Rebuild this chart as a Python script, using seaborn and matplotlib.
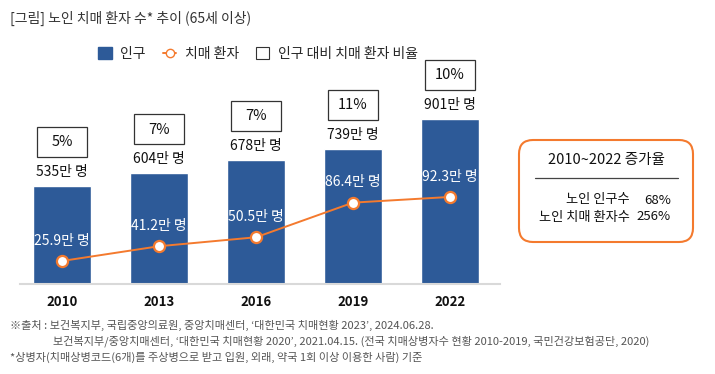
import seaborn as sns
import matplotlib.pyplot as plt
import pandas as pd
from matplotlib.patches import Patch, FancyBboxPatch, Rectangle
from matplotlib.lines import Line2D

years = ["2010", "2013", "2016", "2019", "2022"]
population = [535, 604, 678, 739, 901]
patients = [25.9, 41.2, 50.5, 86.4, 92.3]
ratio_labels = ["5%", "7%", "7%", "11%", "10%"]

growth_rows = ["노인 인구수", "노인 치매 환자수"]
growth_vals = ["68%", "256%"]

W, H = 715, 374
BLUE = "#2D5A98"
ORANGE = "#F47A2E"

sns.set_theme(style="white")
plt.rcParams["font.family"] = ["Noto Sans CJK KR", "DejaVu Sans"]

df = pd.DataFrame({"year": years, "pop": population, "pat": patients})

fig = plt.figure(figsize=(W / 100, H / 100), dpi=100)


def fx(x):
    return x / W


def fy(y):
    return 1 - y / H


# axes from x=20..500 px, y=40..284 px
ax = fig.add_axes([fx(20), fy(284), fx(480), (284 - 40) / H])
sns.barplot(data=df, x="year", y="pop", color=BLUE, width=0.59, saturation=1, ax=ax)
ax.set_xlim(-0.433, 4.515)
ax.set_ylim(0, 1332)

ax2 = ax.twinx()
sns.pointplot(
    data=df, x="year", y="pat", color=ORANGE, markers="o", ax=ax2,
    markerfacecolor="white", markeredgecolor=ORANGE, markersize=8,
    markeredgewidth=1.6, linewidth=1.4,
)
ax2.set_xlim(-0.433, 4.515)
ax2.set_ylim(2.04, 255)

for a in (ax, ax2):
    a.set_xlabel("")
    a.set_ylabel("")
    a.set_yticks([])
    for s in a.spines.values():
        s.set_visible(False)
ax.spines["bottom"].set_visible(True)
ax.spines["bottom"].set_color("#d9d9d9")
ax.spines["bottom"].set_linewidth(1.5)
ax.tick_params(axis="x", length=0, pad=8)
for lab in ax.get_xticklabels():
    lab.set_fontweight("bold")
    lab.set_fontsize(9.5)
    lab.set_color("#111111")

for i, (p, r) in enumerate(zip(population, ratio_labels)):
    ax.annotate(f"{p}만 명", (i, p), xytext=(0, 10), textcoords="offset points",
                ha="center", va="center", fontsize=10, color="#111111")
    ax.annotate(r, (i, p), xytext=(0, 31.5), textcoords="offset points",
                ha="center", va="center", fontsize=10.5, color="#111111")
    # fixed-size box (50x30 px) around the ratio label
    cx, cy = ax.transData.transform((i, p))
    cy += 44
    fig.add_artist(Rectangle((cx - 25, cy - 15), 50, 30, transform=None,
                             fc="none", ec="#333333", lw=0.9))

for i, v in enumerate(patients):
    ax2.annotate(f"{v}만 명", (i, v), xytext=(0, 14.5), textcoords="offset points",
                 ha="center", va="center", fontsize=10, color="white", zorder=5)

# legend
handles = [
    Patch(facecolor=BLUE, edgecolor=BLUE),
    Line2D([], [], color=ORANGE, marker="o", markerfacecolor="white",
           markeredgecolor=ORANGE, markersize=6, lw=1.4),
    Patch(facecolor="white", edgecolor="#333333", lw=0.8),
]
fig.legend(handles, ["인구", "치매 환자", "인구 대비 치매 환자 비율"], ncol=3,
           loc="center", bbox_to_anchor=(fx(258), fy(54)), frameon=False,
           fontsize=10, handlelength=1.0, handleheight=1.0, handletextpad=0.6,
           columnspacing=1.2)

# title
fig.text(fx(10), fy(18), "[그림] 노인 치매 환자 수* 추이 (65세 이상)", fontsize=10,
         color="#333333", va="center", ha="left")

# right summary box
box = FancyBboxPatch((519, H - 242), 174, 102,
                     boxstyle="round,pad=0,rounding_size=14",
                     transform=None, fc="white", ec=ORANGE, lw=1.5)
fig.add_artist(box)
fig.text(fx(606), fy(160), "2010~2022 증가율", fontsize=10.5, ha="center",
         va="center", color="#111111")
fig.add_artist(Line2D([fx(535), fx(678)], [fy(178), fy(178)], color="#444444",
                      lw=0.9, transform=fig.transFigure))
for k, (name, val) in enumerate(zip(growth_rows, growth_vals)):
    yy = fy(200 + 17 * k)
    fig.text(fx(630), yy, name, fontsize=9.5, ha="right", va="center", color="#111111")
    fig.text(fx(671), yy, val, fontsize=9.5, ha="right", va="center", color="#111111")

# footnotes
notes = [
    (fx(10), fy(325), "※출처 : 보건복지부, 국립중앙의료원, 중앙치매센터, ‘대한민국 치매현황 2023’, 2024.06.28."),
    (fx(53), fy(341), "보건복지부/중앙치매센터, ‘대한민국 치매현황 2020’, 2021.04.15. (전국 치매상병자수 현황 2010-2019, 국민건강보험공단, 2020)"),
    (fx(10), fy(357), "*상병자(치매상병코드(6개)를 주상병으로 받고 입원, 외래, 약국 1회 이상 이용한 사람) 기준"),
]
for x, y, t in notes:
    fig.text(x, y, t, fontsize=8, color="#555555", ha="left", va="center")

fig.savefig("out.png", dpi=100)
